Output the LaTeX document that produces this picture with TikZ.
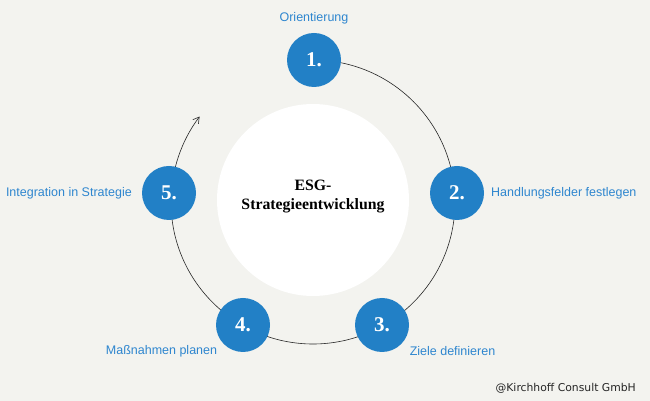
\documentclass[tikz,border=0pt]{standalone}
\usepackage{fontspec}
\setmainfont{Liberation Serif}
\newfontfamily\labfont{Liberation Sans}
\newfontfamily\copyfont{DejaVu Sans}
\usetikzlibrary{arrows.meta}
\definecolor{bg}{HTML}{F3F3EF}
\definecolor{stepblue}{HTML}{2280C6}
\definecolor{labblue}{HTML}{2E86CF}
\tikzset{
  stepnode/.style={circle, fill=stepblue, minimum size=54pt, inner sep=0pt,
    text=white, font=\bfseries\fontsize{21}{21}\selectfont},
  steplabel/.style={text=labblue, font=\labfont\fontsize{12.5}{14}\selectfont, inner sep=0pt},
  ringline/.style={line width=0.6pt, draw=black!85}
}
\begin{document}
\begin{tikzpicture}[x=1pt,y=1pt]
\fill[bg] (0,0) rectangle (650,401);
\useasboundingbox (0,0) rectangle (650,401);
\coordinate (C) at (313,199);
\coordinate (ringstart) at (313,341);
\draw[ringline, -{Straight Barb[length=6pt,width=7pt]}] (ringstart) arc[start angle=90, end angle=-217, radius=142];
\node[circle, fill=white, minimum size=192pt, inner sep=0pt] (core) at (313,201) {};
\node[align=center, font=\bfseries\fontsize{15.8}{19}\selectfont] (coretext) at (313,204) {ESG-\\Strategieentwicklung};
\node[stepnode] (n1) at (314,341) {1.};
\node[stepnode] (n2) at (457,208) {2.};
\node[stepnode] (n3) at (382,76) {3.};
\node[stepnode] (n4) at (243,76) {4.};
\node[stepnode] (n5) at (169,208) {5.};
\node[steplabel] (l1) at (314,383) {Orientierung};
\node[steplabel, anchor=west] (l2) at (491,208) {Handlungsfelder festlegen};
\node[steplabel] (l3) at (452.5,50) {Ziele definieren};
\node[steplabel] (l4) at (161.5,50) {Maßnahmen planen};
\node[steplabel, anchor=east] (l5) at (132,208) {Integration in Strategie};
\node[anchor=east, inner sep=0pt, font=\copyfont\fontsize{10.8}{12}\selectfont, text=black!85] (copy) at (636,13) {@Kirchhoff Consult GmbH};
\end{tikzpicture}
\end{document}
